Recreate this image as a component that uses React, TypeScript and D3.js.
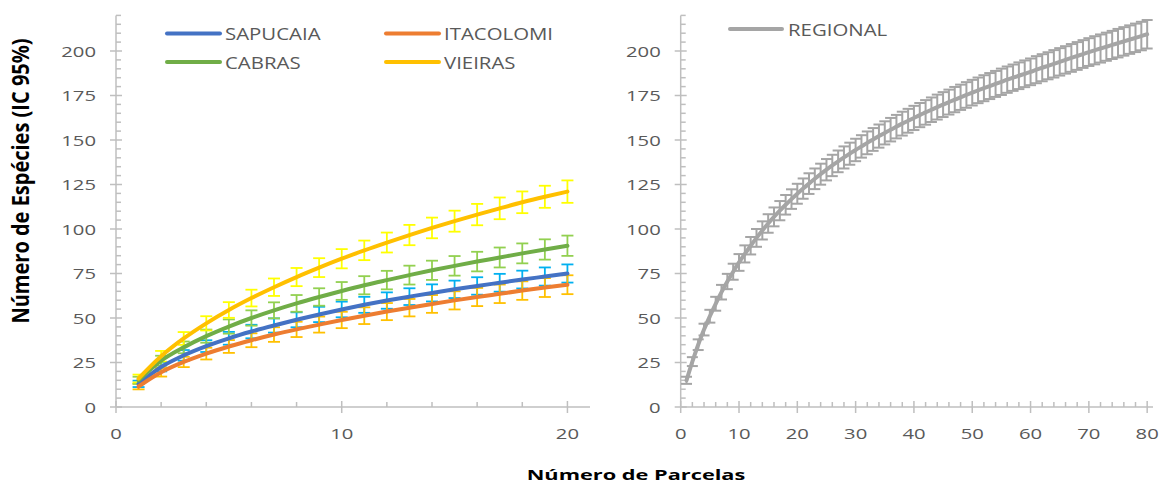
import React from "react"
import * as d3 from "d3"

// parcelas 1..20 (local) e 1..80 (regional)
const parcelasLocal = [1, 2, 3, 4, 5, 6, 7, 8, 9, 10, 11, 12, 13, 14, 15, 16, 17, 18, 19, 20]
const parcelasRegional = d3.range(1, 81)

const sapucaia = [13, 22.5, 29, 34.2, 38.6, 42.4, 45.8, 49, 52, 54.8, 57.4, 59.8, 62, 64.1, 66.1, 68, 69.8, 71.6, 73.3, 75]
const sapucaiaIc = [1.8, 2.5, 3, 3.3, 3.6, 3.8, 4, 4.2, 4.3, 4.4, 4.5, 4.6, 4.7, 4.8, 4.9, 4.9, 5, 5, 5.1, 5.1]
const itacolomi = [11.5, 19.5, 25.3, 30, 34, 37.5, 40.7, 43.6, 46.3, 48.9, 51.3, 53.6, 55.8, 57.9, 59.9, 61.8, 63.6, 65.4, 67.1, 68.7]
const itacolomiIc = [1.6, 2.4, 2.9, 3.3, 3.6, 3.9, 4.1, 4.3, 4.5, 4.6, 4.7, 4.8, 4.9, 5, 5.1, 5.1, 5.2, 5.2, 5.3, 5.3]
const cabras = [15, 26, 33.5, 39.8, 45.2, 50, 54.3, 58.2, 61.8, 65.2, 68.4, 71.3, 74.1, 76.8, 79.3, 81.7, 84, 86.3, 88.5, 90.6]
const cabrasIc = [2, 2.8, 3.3, 3.7, 4, 4.3, 4.5, 4.7, 4.9, 5, 5.1, 5.2, 5.3, 5.4, 5.5, 5.5, 5.6, 5.6, 5.7, 5.7]
const vieiras = [16, 28.5, 38.5, 47, 54.5, 61.2, 67.3, 73, 78.3, 83.3, 88, 92.4, 96.6, 100.6, 104.4, 108.1, 111.6, 115, 118.1, 121]
const vieirasIc = [2.2, 3, 3.6, 4, 4.4, 4.7, 4.9, 5.1, 5.3, 5.4, 5.5, 5.6, 5.7, 5.8, 5.9, 6, 6.1, 6.1, 6.2, 6.3]

const regional = [
  15, 25.5, 35, 43.5, 51, 58, 64.5, 70.5, 76, 81.2, 86, 90.6, 95, 99.2, 103.1, 106.8, 110.3, 113.6, 116.8, 119.8,
  122.7, 125.5, 128.2, 130.8, 133.3, 135.7, 138, 140.2, 142.3, 144.4, 146.4, 148.4, 150.3, 152.2, 154, 155.8, 157.5, 159.2, 160.8, 162.4,
  164, 165.5, 167, 168.5, 169.9, 171.3, 172.7, 174, 175.3, 176.6, 177.9, 179.1, 180.3, 181.5, 182.7, 183.9, 185, 186.1, 187.2, 188.3,
  189.5, 190.6, 191.7, 192.8, 193.9, 195, 196.1, 197.2, 198.3, 199.4, 200.4, 201.4, 202.4, 203.4, 204.4, 205.4, 206.4, 207.4, 208.4, 209.4,
]
const regionalIc = [
  2, 2.5, 3, 3.3, 3.6, 3.9, 4.1, 4.3, 4.5, 4.7, 4.8, 4.9, 5, 5.1, 5.2, 5.3, 5.4, 5.5, 5.5, 5.6,
  5.7, 5.8, 5.8, 5.9, 6, 6, 6.1, 6.2, 6.2, 6.3, 6.3, 6.4, 6.4, 6.5, 6.5, 6.6, 6.6, 6.7, 6.7, 6.8,
  6.8, 6.9, 6.9, 7, 7, 7, 7.1, 7.1, 7.2, 7.2, 7.2, 7.3, 7.3, 7.3, 7.4, 7.4, 7.4, 7.5, 7.5, 7.5,
  7.6, 7.6, 7.6, 7.7, 7.7, 7.7, 7.8, 7.8, 7.8, 7.8, 7.9, 7.9, 7.9, 7.9, 8, 8, 8, 8, 8, 8,
]

const yTicks = [0, 25, 50, 75, 100, 125, 150, 175, 200]
const xTicksLocal = [0, 10, 20]
const xTicksRegional = [0, 10, 20, 30, 40, 50, 60, 70, 80]

const seriesLocal = [
  { name: "SAPUCAIA", values: sapucaia, ic: sapucaiaIc, color: "#4472C4", errColor: "#00B0F0" },
  { name: "ITACOLOMI", values: itacolomi, ic: itacolomiIc, color: "#ED7D31", errColor: "#FFC000" },
  { name: "CABRAS", values: cabras, ic: cabrasIc, color: "#70AD47", errColor: "#92D050" },
  { name: "VIEIRAS", values: vieiras, ic: vieirasIc, color: "#FFC000", errColor: "#FFFF00" },
]

const axisColor = "#BFBFBF"
const labelColor = "#595959"
const font = "'Open Sans', sans-serif"
const stretch = 1.35

const y = d3.scaleLinear().domain([0, 220]).range([407, 15.4])
const xL = d3.scaleLinear().domain([0, 21]).range([116, 590])
const xR = d3.scaleLinear().domain([0, 81]).range([680.7, 1153])

const Label = ({ x, y, anchor, size = 15, sx = stretch, weight = "normal", fill = labelColor, children }: any) => (
  <text
    transform={`translate(${x},${y}) scale(${sx},1)`}
    textAnchor={anchor}
    fontFamily={font}
    fontSize={size}
    fontWeight={weight}
    fill={fill}
  >
    {children}
  </text>
)

const Axes = ({ x, xTicks, xMinorStep }: any) => {
  const [d0, d1] = x.domain()
  const x0 = x(0)
  const yMinor = d3.range(0, 221, 5).filter(v => v % 25 !== 0)
  const xMinor = d3.range(0, d1 + 0.01, xMinorStep).filter(v => !xTicks.includes(v))
  return (
    <g stroke={axisColor} strokeWidth={1.5} fill="none">
      <line x1={x0} x2={x0} y1={y(220)} y2={y(0)} />
      <line x1={x(d0)} x2={x(d1)} y1={y(0)} y2={y(0)} />
      {yTicks.map(t => <line key={"ym" + t} x1={x0 - 6} x2={x0 + 6} y1={y(t)} y2={y(t)} />)}
      {yMinor.map(t => <line key={"yn" + t} x1={x0} x2={x0 + 5} y1={y(t)} y2={y(t)} />)}
      {xTicks.map((t: number) => <line key={"xm" + t} x1={x(t)} x2={x(t)} y1={y(0) - 6} y2={y(0) + 6} />)}
      {xMinor.map((t: number) => <line key={"xn" + t} x1={x(t)} x2={x(t)} y1={y(0) - 5} y2={y(0)} />)}
    </g>
  )
}

const TickLabels = ({ x, xTicks }: any) => (
  <g>
    {yTicks.map(t => (
      <Label key={"yl" + t} x={x(0) - 20} y={y(t) + 5.5} anchor="end">{t}</Label>
    ))}
    {xTicks.map((t: number) => (
      <Label key={"xl" + t} x={x(t)} y={439} anchor="middle">{t}</Label>
    ))}
  </g>
)

const ErrorBars = ({ x, xs, values, ic, color, cap = 12, width = 1.8 }: any) => (
  <g stroke={color} strokeWidth={width} fill="none">
    {xs.map((p: number, i: number) => {
      const top = y(values[i] + ic[i])
      const bot = y(values[i] - ic[i])
      const cx = x(p)
      return (
        <g key={i}>
          <line x1={cx} x2={cx} y1={top} y2={bot} />
          <line x1={cx - cap / 2} x2={cx + cap / 2} y1={top} y2={top} />
          <line x1={cx - cap / 2} x2={cx + cap / 2} y1={bot} y2={bot} />
        </g>
      )
    })}
  </g>
)

export default function App() {
  const lineL = (vals: number[]) =>
    d3.line<number>().x((_, i) => xL(parcelasLocal[i])).y(v => y(v)).curve(d3.curveMonotoneX)(vals) || ""
  const lineR =
    d3.line<number>().x((_, i) => xR(parcelasRegional[i])).y(v => y(v)).curve(d3.curveMonotoneX)(regional) || ""

  const legendPos = [
    { x: 167, y: 33.5 },
    { x: 386, y: 33.5 },
    { x: 167, y: 62 },
    { x: 386, y: 62 },
  ]

  return (
    <svg width={1167} height={484} style={{ position: "absolute", left: 0, top: 0, background: "#fff" }}>
      <Axes x={xL} xTicks={xTicksLocal} xMinorStep={2} />
      <Axes x={xR} xTicks={xTicksRegional} xMinorStep={2} />
      <TickLabels x={xL} xTicks={xTicksLocal} />
      <TickLabels x={xR} xTicks={xTicksRegional} />

      {seriesLocal.map(s => (
        <ErrorBars key={"e" + s.name} x={xL} xs={parcelasLocal} values={s.values} ic={s.ic} color={s.errColor} />
      ))}
      {seriesLocal.map(s => (
        <path key={"l" + s.name} d={lineL(s.values)} stroke={s.color} strokeWidth={4} fill="none" strokeLinecap="round" />
      ))}

      <ErrorBars x={xR} xs={parcelasRegional} values={regional} ic={regionalIc} color="#A5A5A5" cap={11} width={2} />
      <path d={lineR} stroke="#A5A5A5" strokeWidth={4} fill="none" strokeLinecap="round" />

      {seriesLocal.map((s, i) => (
        <g key={"lg" + s.name}>
          <line x1={legendPos[i].x} x2={legendPos[i].x + 53} y1={legendPos[i].y} y2={legendPos[i].y} stroke={s.color} strokeWidth={4} strokeLinecap="round" />
          <Label x={legendPos[i].x + 58} y={legendPos[i].y + 6.5} anchor="start" size={17} sx={1.2}>{s.name}</Label>
        </g>
      ))}
      <line x1={730} x2={782} y1={29} y2={29} stroke="#A5A5A5" strokeWidth={4} strokeLinecap="round" />
      <Label x={788} y={35.5} anchor="start" size={17} sx={1.2}>REGIONAL</Label>

      <text
        transform="translate(29,181) rotate(-90) scale(1,1.15)"
        textAnchor="middle"
        fontFamily={font}
        fontSize={20}
        fontWeight="bold"
        fill="#000"
      >
        Número de Espécies (IC 95%)
      </text>
      <Label x={636} y={480} anchor="middle" size={15} sx={1.45} weight="bold" fill="#000">
        Número de Parcelas
      </Label>
    </svg>
  )
}
